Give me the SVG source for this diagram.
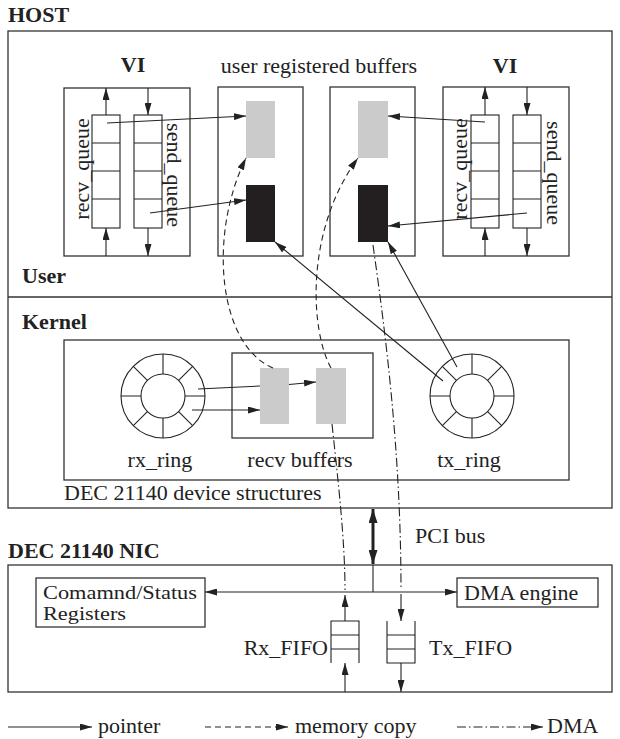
<svg xmlns="http://www.w3.org/2000/svg" width="620" height="739" viewBox="0 0 620 739">
<defs>
<style>
text{font-family:"Liberation Serif","Times New Roman",serif;font-size:22px;fill:#222}
.b{font-weight:bold}
.sm{font-size:19px}
.box{fill:none;stroke:#333;stroke-width:1.3}
.ln{fill:none;stroke:#222;stroke-width:1.1}
.dash{fill:none;stroke:#222;stroke-width:1.1;stroke-dasharray:6 4}
.dd{fill:none;stroke:#222;stroke-width:1.1;stroke-dasharray:9 3 1.5 3}
.gray{fill:#cbcbcb}
.blk{fill:#231f20}
.pc{fill:none;stroke:#222;stroke-width:1.1}
</style>
<marker id="ah" markerUnits="userSpaceOnUse" markerWidth="12" markerHeight="7" refX="12" refY="3.5" orient="auto">
<path d="M0,0 L12,3.5 L0,7 z" fill="#222"/>
</marker>
<marker id="ahs" markerUnits="userSpaceOnUse" markerWidth="12" markerHeight="7" refX="12" refY="3.5" orient="auto-start-reverse">
<path d="M0,0 L12,3.5 L0,7 z" fill="#222"/>
</marker>
<marker id="ahb" markerUnits="userSpaceOnUse" markerWidth="14" markerHeight="9" refX="14" refY="4.5" orient="auto-start-reverse">
<path d="M0,0 L14,4.5 L0,9 z" fill="#222"/>
</marker>
<g id="ring">
<circle r="42" class="pc"/>
<circle r="22" class="pc"/>
<path class="pc" d="M22,0 L42,0 M-22,0 L-42,0 M0,22 L0,42 M0,-22 L0,-42 M15.6,15.6 L29.7,29.7 M-15.6,15.6 L-29.7,29.7 M15.6,-15.6 L29.7,-29.7 M-15.6,-15.6 L-29.7,-29.7"/>
</g>
<g id="queue">
<rect x="0" y="0" width="28" height="113" class="pc"/>
<path class="pc" d="M0,28 H28 M0,56 H28 M0,84 H28"/>
</g>
</defs>

<g id="host">
<text x="8" y="22" class="b">HOST</text>
<rect x="8" y="31" width="604" height="477" class="box"/>
<line x1="8" y1="297" x2="612" y2="297" class="box"/>
<text x="22" y="283" class="b">User</text>
<text x="22" y="329" class="b">Kernel</text>
</g>

<g id="vi-left">
<text x="133" y="72" class="b" text-anchor="middle">VI</text>
<rect x="64" y="88" width="126" height="168" class="box"/>
<use href="#queue" x="92" y="115"/>
<use href="#queue" x="134" y="115"/>
<text transform="translate(89,169) rotate(-90)" text-anchor="middle">recv_queue</text>
<text transform="translate(167,175) rotate(90)" text-anchor="middle">send_queue</text>
</g>

<g id="vi-right">
<text x="505" y="73" class="b" text-anchor="middle">VI</text>
<rect x="443" y="87" width="126" height="169" class="box"/>
<use href="#queue" x="471" y="115"/>
<use href="#queue" x="513" y="115"/>
<text transform="translate(467,169) rotate(-90)" text-anchor="middle">recv_queue</text>
<text transform="translate(547,173) rotate(90)" text-anchor="middle">send_queue</text>
</g>

<g id="user-buffers">
<text x="319" y="73" text-anchor="middle">user registered buffers</text>
<rect x="218" y="87" width="85" height="169" class="box"/>
<rect x="246" y="101" width="29" height="57" class="gray"/>
<rect x="246" y="185" width="29" height="57" class="blk"/>
<rect x="330" y="87" width="85" height="169" class="box"/>
<rect x="358" y="101" width="30" height="57" class="gray"/>
<rect x="358" y="185" width="30" height="57" class="blk"/>
</g>

<g id="device-structures">
<rect x="64" y="340" width="505" height="140" class="box"/>
<text x="64" y="500">DEC 21140 device structures</text>
</g>

<g id="rx-ring">
<use href="#ring" x="163" y="396"/>
<text x="160" y="467" text-anchor="middle">rx_ring</text>
</g>

<g id="recv-buffers">
<rect x="232" y="353" width="141" height="85" class="box"/>
<rect x="260" y="368" width="29" height="56" class="gray"/>
<rect x="316" y="368" width="30" height="56" class="gray"/>
<text x="300" y="467" text-anchor="middle">recv buffers</text>
</g>

<g id="tx-ring">
<use href="#ring" x="472" y="396"/>
<text x="469" y="467" text-anchor="middle">tx_ring</text>
</g>

<g id="nic">
<text x="8" y="558" class="b">DEC 21140 NIC</text>
<rect x="8" y="565" width="604" height="127" class="box"/>
</g>

<g id="csr">
<rect x="36" y="578" width="169" height="49" class="box"/>
<text x="43" y="599" class="sm" textLength="154" lengthAdjust="spacingAndGlyphs">Comamnd/Status</text>
<text x="43" y="620" class="sm" textLength="83" lengthAdjust="spacingAndGlyphs">Registers</text>
</g>

<g id="dma-engine">
<rect x="457" y="578" width="141" height="29" class="box"/>
<text x="464" y="600">DMA engine</text>
</g>

<g id="rx-fifo">
<path class="pc" d="M331,663 V621 H359 V663 M331,635 H359 M331,649 H359"/>
<text x="328" y="655" text-anchor="end">Rx_FIFO</text>
</g>

<g id="tx-fifo">
<path class="pc" d="M387,621 V663 H415 V621 M387,635 H415 M387,649 H415"/>
<text x="429" y="655">Tx_FIFO</text>
</g>

<g id="pci">
<text x="415" y="543">PCI bus</text>
</g>

<g id="connectors">
<line x1="106" y1="256" x2="106" y2="228" class="ln" marker-end="url(#ah)"/>
<line x1="106" y1="115" x2="106" y2="88" class="ln" marker-end="url(#ah)"/>
<line x1="148" y1="88" x2="148" y2="115" class="ln" marker-end="url(#ah)"/>
<line x1="148" y1="228" x2="148" y2="256" class="ln" marker-end="url(#ah)"/>
<line x1="485" y1="256" x2="485" y2="228" class="ln" marker-end="url(#ah)"/>
<line x1="485" y1="115" x2="485" y2="87" class="ln" marker-end="url(#ah)"/>
<line x1="527" y1="87" x2="527" y2="115" class="ln" marker-end="url(#ah)"/>
<line x1="527" y1="228" x2="527" y2="256" class="ln" marker-end="url(#ah)"/>
<line x1="107" y1="123" x2="246" y2="116" class="ln" marker-end="url(#ah)"/>
<line x1="150" y1="213" x2="246" y2="200" class="ln" marker-end="url(#ah)"/>
<line x1="485" y1="122" x2="388" y2="116" class="ln" marker-end="url(#ah)"/>
<line x1="527" y1="213" x2="388" y2="226" class="ln" marker-end="url(#ah)"/>
<line x1="443" y1="381" x2="275" y2="242" class="ln" marker-end="url(#ah)"/>
<line x1="457" y1="367" x2="388" y2="242" class="ln" marker-end="url(#ah)"/>
<line x1="192" y1="410" x2="260" y2="410" class="ln" marker-end="url(#ah)"/>
<path d="M198,389 L260,386 M289,384.5 L316,382" class="ln" marker-end="url(#ah)"/>
<path d="M273,368 C218,345 208,235 246,158" class="dash" marker-end="url(#ah)"/>
<path d="M331,368 C310,330 305,230 358,158" class="dash" marker-end="url(#ah)"/>
<path d="M332,424 C338,480 345,540 345,590" class="dd"/>
<path d="M373,245 C385,330 401,450 401,590" class="dd"/>
<line x1="345" y1="621" x2="345" y2="595" class="ln" marker-end="url(#ah)"/>
<line x1="401" y1="594" x2="401" y2="621" class="ln" marker-end="url(#ah)"/>
<line x1="345" y1="692" x2="345" y2="663" class="ln" marker-end="url(#ah)"/>
<line x1="401" y1="663" x2="401" y2="692" class="ln" marker-end="url(#ah)"/>
<line x1="373" y1="509" x2="373" y2="564" stroke="#222" stroke-width="3" marker-start="url(#ahb)" marker-end="url(#ahb)"/>
<line x1="373" y1="565" x2="373" y2="592" class="ln"/>
<line x1="205" y1="592" x2="457" y2="592" class="ln" marker-start="url(#ahs)" marker-end="url(#ahs)"/>
</g>

<g id="legend">
<line x1="8" y1="727" x2="92" y2="727" class="ln" marker-end="url(#ah)"/>
<text x="98" y="733">pointer</text>
<line x1="205" y1="727" x2="288" y2="727" class="dash" marker-end="url(#ah)"/>
<text x="295" y="733">memory copy</text>
<line x1="457" y1="727" x2="543" y2="727" class="dd" marker-end="url(#ah)"/>
<text x="547" y="733">DMA</text>
</g>
</svg>
